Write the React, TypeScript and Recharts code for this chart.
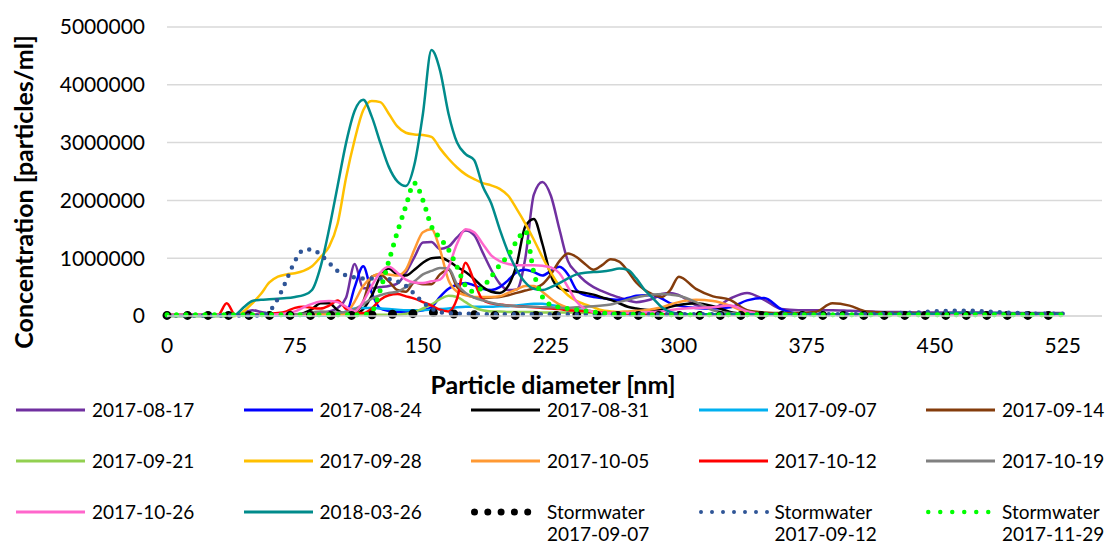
import { LineChart, Line, XAxis, YAxis, CartesianGrid, Label, Legend } from "recharts";

// Particle size distributions, values in millions of particles/ml
const FONT = "Lato, 'Open Sans', sans-serif";

const diameters = [
  0, 5, 10, 15, 20, 25, 30, 35, 40, 45,
  50, 55, 60, 65, 70, 75, 80, 85, 90, 95,
  100, 105, 110, 115, 120, 125, 130, 135, 140, 145,
  150, 155, 160, 165, 170, 175, 180, 185, 190, 195,
  200, 205, 210, 215, 220, 225, 230, 235, 240, 245,
  250, 255, 260, 265, 270, 275, 280, 285, 290, 295,
  300,
  310, 320, 330, 340, 350, 360, 370, 380, 390, 400,
  410, 420, 430, 440, 450, 460, 470, 480, 490, 500, 510, 520,
  525,
];

const conc0817 = [
  0.01, 0.01, 0.01, 0.01, 0.01, 0.01, 0.01, 0.01, 0.01, 0.06,
  0.1, 0.07, 0.04, 0.03, 0.03, 0.03, 0.03, 0.03, 0.05, 0.08,
  0.14, 0.32, 0.9, 0.48, 0.48, 0.5, 0.52, 0.56, 0.75, 1.02,
  1.27, 1.28, 1.16, 1.2, 1.36, 1.48, 1.4, 1.1, 0.8, 0.56,
  0.45, 0.46, 1.0, 2.1, 2.32, 2.08, 1.5, 0.95, 0.75, 0.6,
  0.5, 0.43, 0.37, 0.32, 0.27, 0.24, 0.26, 0.3, 0.38, 0.4,
  0.36,
  0.19, 0.14, 0.3, 0.4, 0.28, 0.12, 0.1, 0.1, 0.1, 0.09,
  0.08, 0.07, 0.07, 0.06, 0.06, 0.06, 0.06, 0.06, 0.05, 0.05, 0.05, 0.05,
  0.05,
];

const conc0824 = [
  0.01, 0.01, 0.01, 0.01, 0.01, 0.01, 0.01, 0.01, 0.01, 0.01,
  0.01, 0.01, 0.01, 0.01, 0.01, 0.01, 0.01, 0.01, 0.01, 0.01,
  0.02, 0.05, 0.5, 0.86, 0.4, 0.13, 0.09, 0.07, 0.07, 0.08,
  0.1, 0.15, 0.33, 0.47, 0.54, 0.57, 0.53, 0.47, 0.45, 0.5,
  0.62, 0.76, 0.8, 0.76, 0.7, 0.78, 0.85, 0.72, 0.45, 0.36,
  0.33, 0.31, 0.29, 0.28, 0.31, 0.35, 0.36, 0.36, 0.3, 0.22,
  0.18,
  0.14, 0.13, 0.15, 0.27, 0.31, 0.12, 0.04, 0.03, 0.03, 0.03,
  0.03, 0.03, 0.03, 0.03, 0.03, 0.03, 0.03, 0.03, 0.03, 0.03, 0.03, 0.03,
  0.03,
];

const conc0831 = [
  0.02, 0.02, 0.02, 0.02, 0.02, 0.02, 0.02, 0.02, 0.02, 0.02,
  0.02, 0.02, 0.02, 0.02, 0.02, 0.02, 0.05, 0.12, 0.22, 0.22,
  0.1, 0.04, 0.04, 0.12, 0.35, 0.68, 0.82, 0.72, 0.7, 0.8,
  0.92, 1.0, 1.01, 0.95, 0.85, 0.76, 0.64, 0.5, 0.42, 0.4,
  0.52, 0.9, 1.55, 1.68, 1.25, 0.7, 0.48, 0.44, 0.42, 0.4,
  0.37, 0.32, 0.28, 0.22, 0.16, 0.13, 0.11, 0.1, 0.12, 0.16,
  0.19,
  0.22, 0.17, 0.07, 0.03, 0.02, 0.02, 0.02, 0.02, 0.02, 0.02,
  0.02, 0.02, 0.02, 0.02, 0.02, 0.02, 0.02, 0.02, 0.02, 0.02, 0.02, 0.02,
  0.02,
];

const conc0907 = [
  0.01, 0.01, 0.01, 0.01, 0.01, 0.01, 0.01, 0.01, 0.01, 0.01,
  0.01, 0.01, 0.01, 0.01, 0.01, 0.01, 0.01, 0.01, 0.01, 0.01,
  0.03, 0.08, 0.13, 0.14, 0.14, 0.13, 0.12, 0.11, 0.1, 0.1,
  0.1, 0.11, 0.12, 0.13, 0.15, 0.16, 0.16, 0.16, 0.16, 0.17,
  0.17, 0.18, 0.2, 0.21, 0.21, 0.19, 0.17, 0.14, 0.12, 0.1,
  0.08, 0.06, 0.05, 0.04, 0.03, 0.03, 0.03, 0.03, 0.03, 0.03,
  0.03,
  0.02, 0.02, 0.02, 0.02, 0.02, 0.02, 0.02, 0.02, 0.02, 0.02,
  0.02, 0.02, 0.02, 0.02, 0.02, 0.02, 0.02, 0.02, 0.02, 0.02, 0.02, 0.02,
  0.02,
];

const conc0914 = [
  0.02, 0.02, 0.02, 0.02, 0.02, 0.02, 0.02, 0.02, 0.02, 0.02,
  0.02, 0.02, 0.02, 0.02, 0.02, 0.02, 0.02, 0.02, 0.02, 0.02,
  0.02, 0.02, 0.05, 0.25, 0.68, 0.72, 0.6, 0.45, 0.42, 0.58,
  0.55, 0.55, 0.72, 0.8, 0.5, 0.38, 0.32, 0.31, 0.32, 0.33,
  0.36, 0.4, 0.44, 0.48, 0.55, 0.72, 0.95, 1.08, 1.02, 0.9,
  0.8, 0.88, 0.98, 0.94, 0.78, 0.58, 0.45, 0.37, 0.33, 0.45,
  0.68,
  0.47, 0.34, 0.28, 0.1, 0.06, 0.05, 0.05, 0.07, 0.22, 0.18,
  0.08, 0.06, 0.05, 0.05, 0.04, 0.04, 0.04, 0.04, 0.04, 0.04, 0.04, 0.04,
  0.04,
];

const conc0921 = [
  0.02, 0.02, 0.02, 0.02, 0.02, 0.02, 0.02, 0.02, 0.02, 0.02,
  0.02, 0.02, 0.02, 0.02, 0.02, 0.02, 0.02, 0.02, 0.02, 0.02,
  0.02, 0.02, 0.02, 0.02, 0.02, 0.02, 0.02, 0.02, 0.04, 0.07,
  0.13, 0.2, 0.29, 0.35, 0.33, 0.24, 0.15, 0.1, 0.08, 0.08,
  0.07, 0.07, 0.07, 0.07, 0.06, 0.06, 0.06, 0.06, 0.06, 0.05,
  0.05, 0.05, 0.05, 0.04, 0.04, 0.04, 0.04, 0.04, 0.03, 0.03,
  0.03,
  0.02, 0.02, 0.02, 0.02, 0.02, 0.02, 0.02, 0.02, 0.02, 0.02,
  0.02, 0.02, 0.02, 0.02, 0.02, 0.02, 0.02, 0.02, 0.02, 0.02, 0.02, 0.02,
  0.02,
];

const conc0928 = [
  0, 0, 0, 0, 0, 0, 0, 0, 0, 0.08,
  0.22, 0.38, 0.58, 0.68, 0.72, 0.74, 0.78, 0.86, 1.02, 1.2,
  1.6, 2.4, 3.05, 3.56, 3.72, 3.7, 3.5, 3.28, 3.17, 3.14,
  3.13, 3.1, 2.9, 2.72, 2.57, 2.45, 2.37, 2.3, 2.26, 2.2,
  2.08, 1.85, 1.6, 1.32, 1.02, 0.75, 0.52, 0.36, 0.26, 0.2,
  0.15, 0.1, 0.08, 0.06, 0.05, 0.04, 0.04, 0.03, 0.03, 0.03,
  0.03,
  0.02, 0.02, 0.02, 0.02, 0.02, 0.02, 0.02, 0.02, 0.02, 0.02,
  0.02, 0.02, 0.02, 0.02, 0.02, 0.02, 0.02, 0.02, 0.02, 0.02, 0.02, 0.02,
  0.02,
];

const conc1005 = [
  0.02, 0.02, 0.02, 0.02, 0.02, 0.02, 0.02, 0.02, 0.02, 0.02,
  0.02, 0.02, 0.02, 0.02, 0.02, 0.02, 0.02, 0.02, 0.02, 0.02,
  0.02, 0.05, 0.25, 0.52, 0.67, 0.73, 0.72, 0.7, 0.8, 1.15,
  1.45, 1.5, 1.15, 0.62, 0.42, 0.36, 0.33, 0.33, 0.33, 0.34,
  0.4, 0.46, 0.52, 0.52, 0.42, 0.3, 0.2, 0.14, 0.1, 0.09,
  0.08, 0.07, 0.07, 0.07, 0.08, 0.09, 0.1, 0.12, 0.15, 0.2,
  0.24,
  0.28, 0.26, 0.18, 0.06, 0.03, 0.02, 0.02, 0.02, 0.02, 0.02,
  0.02, 0.02, 0.02, 0.02, 0.02, 0.02, 0.02, 0.02, 0.02, 0.02, 0.02, 0.02,
  0.02,
];

const conc1012 = [
  0.01, 0.01, 0.01, 0.01, 0.01, 0.01, 0.02, 0.22, 0.02, 0.02,
  0.03, 0.03, 0.04, 0.05, 0.08, 0.14, 0.16, 0.14, 0.13, 0.18,
  0.27, 0.12, 0.06, 0.05, 0.13, 0.28, 0.36, 0.38, 0.34, 0.3,
  0.24, 0.18, 0.11, 0.08, 0.3, 0.92, 0.6, 0.28, 0.22, 0.2,
  0.18, 0.17, 0.16, 0.15, 0.14, 0.13, 0.12, 0.1, 0.09, 0.08,
  0.07, 0.06, 0.05, 0.05, 0.04, 0.04, 0.03, 0.03, 0.03, 0.03,
  0.03,
  0.02, 0.02, 0.02, 0.02, 0.02, 0.02, 0.02, 0.02, 0.02, 0.02,
  0.02, 0.02, 0.02, 0.02, 0.02, 0.02, 0.02, 0.02, 0.02, 0.02, 0.02, 0.02,
  0.02,
];

const conc1019 = [
  0.02, 0.02, 0.02, 0.02, 0.02, 0.02, 0.02, 0.02, 0.02, 0.02,
  0.02, 0.02, 0.02, 0.02, 0.02, 0.03, 0.04, 0.06, 0.08, 0.07,
  0.06, 0.07, 0.12, 0.2, 0.3, 0.36, 0.4, 0.42, 0.5, 0.6,
  0.72, 0.78, 0.83, 0.82, 0.55, 0.4, 0.32, 0.27, 0.23, 0.2,
  0.18, 0.17, 0.16, 0.16, 0.15, 0.15, 0.14, 0.14, 0.15, 0.16,
  0.17, 0.18, 0.2, 0.24, 0.28, 0.32, 0.35, 0.37, 0.38, 0.37,
  0.35,
  0.24, 0.1, 0.05, 0.03, 0.03, 0.03, 0.03, 0.03, 0.03, 0.03,
  0.03, 0.03, 0.03, 0.03, 0.03, 0.03, 0.03, 0.03, 0.03, 0.03, 0.03, 0.03,
  0.03,
];

const conc1026 = [
  0.02, 0.02, 0.02, 0.02, 0.02, 0.02, 0.02, 0.02, 0.02, 0.02,
  0.02, 0.02, 0.02, 0.03, 0.05, 0.08, 0.15, 0.21, 0.25, 0.26,
  0.24, 0.16, 0.08, 0.25, 0.52, 0.75, 0.85, 0.75, 0.63, 0.58,
  0.57, 0.6, 0.63, 0.85, 1.25, 1.5, 1.45, 1.25, 1.05, 0.95,
  0.9, 0.88, 0.88, 0.88, 0.87, 0.84, 0.74, 0.5, 0.25, 0.12,
  0.07, 0.05, 0.05, 0.05, 0.05, 0.05, 0.06, 0.07, 0.08, 0.1,
  0.12,
  0.14, 0.15, 0.18, 0.08, 0.03, 0.02, 0.02, 0.02, 0.02, 0.02,
  0.02, 0.02, 0.02, 0.02, 0.02, 0.02, 0.02, 0.02, 0.02, 0.02, 0.02, 0.02,
  0.02,
];

const conc180326 = [
  0, 0, 0, 0, 0, 0, 0, 0, 0.02, 0.15,
  0.26, 0.28, 0.29, 0.3, 0.31, 0.33, 0.36, 0.45, 0.85, 1.5,
  2.25, 3.0, 3.55, 3.74, 3.45, 3.0, 2.58, 2.33, 2.25, 2.62,
  3.5, 4.6, 4.25, 3.5, 3.0, 2.8, 2.7, 2.25, 1.95, 1.5,
  1.1, 0.8, 0.58, 0.47, 0.45, 0.5, 0.57, 0.65, 0.72, 0.75,
  0.76, 0.77, 0.79, 0.82, 0.8, 0.65, 0.45, 0.3, 0.15, 0.07,
  0.04,
  0.03, 0.03, 0.03, 0.03, 0.03, 0.03, 0.03, 0.03, 0.03, 0.03,
  0.03, 0.03, 0.04, 0.04, 0.04, 0.05, 0.05, 0.05, 0.05, 0.04, 0.04, 0.04,
  0.04,
];

const storm0907 = [
  0.01, 0.01, 0.01, 0.01, 0.01, 0.01, 0.01, 0.01, 0.01, 0.01,
  0.01, 0.01, 0.01, 0.01, 0.01, 0.01, 0.01, 0.01, 0.01, 0.01,
  0.01, 0.01, 0.01, 0.01, 0.02, 0.02, 0.03, 0.03, 0.04, 0.04,
  0.05, 0.06, 0.05, 0.04, 0.03, 0.02, 0.02, 0.02, 0.01, 0.01,
  0.01, 0.01, 0.01, 0.01, 0.01, 0.01, 0.01, 0.01, 0.01, 0.01,
  0.01, 0.01, 0.01, 0.01, 0.01, 0.01, 0.01, 0.01, 0.01, 0.01,
  0.01,
  0.01, 0.01, 0.01, 0.01, 0.01, 0.01, 0.01, 0.01, 0.01, 0.01,
  0.01, 0.01, 0.01, 0.01, 0.01, 0.01, 0.01, 0.01, 0.01, 0.01, 0.01, 0.01,
  0.01,
];

const storm0912 = [
  0.01, 0.01, 0.01, 0.01, 0.01, 0.01, 0.01, 0.01, 0.01, 0.01,
  0.01, 0.01, 0.08, 0.3, 0.62, 0.95, 1.14, 1.15, 1.06, 0.92,
  0.78, 0.7, 0.67, 0.65, 0.65, 0.65, 0.64, 0.6, 0.52, 0.38,
  0.24, 0.13, 0.07, 0.05, 0.04, 0.04, 0.03, 0.03, 0.03, 0.03,
  0.03, 0.03, 0.03, 0.03, 0.03, 0.03, 0.03, 0.03, 0.03, 0.03,
  0.03, 0.03, 0.03, 0.03, 0.03, 0.03, 0.03, 0.03, 0.03, 0.03,
  0.03,
  0.03, 0.03, 0.03, 0.03, 0.03, 0.03, 0.03, 0.03, 0.03, 0.03,
  0.03, 0.04, 0.05, 0.06, 0.08, 0.09, 0.09, 0.08, 0.06, 0.05, 0.04, 0.04,
  0.04,
];

const storm1129 = [
  0.02, 0.02, 0.02, 0.02, 0.02, 0.02, 0.02, 0.02, 0.02, 0.02,
  0.02, 0.02, 0.02, 0.02, 0.02, 0.02, 0.02, 0.02, 0.02, 0.02,
  0.02, 0.02, 0.02, 0.02, 0.08, 0.45, 0.95, 1.45, 1.9, 2.3,
  2.0, 1.55, 1.35, 1.15, 0.85, 0.52, 0.42, 0.5, 0.68, 0.88,
  1.05, 1.3, 1.47, 0.75, 0.33, 0.19, 0.15, 0.13, 0.11, 0.09,
  0.07, 0.05, 0.04, 0.03, 0.03, 0.03, 0.02, 0.02, 0.02, 0.02,
  0.02,
  0.02, 0.02, 0.02, 0.02, 0.02, 0.02, 0.02, 0.02, 0.02, 0.02,
  0.02, 0.02, 0.02, 0.02, 0.02, 0.02, 0.02, 0.02, 0.02, 0.02, 0.02, 0.02,
  0.02,
];

const xTicks = [0, 75, 150, 225, 300, 375, 450, 525];
const yTicks = [0, 1000000, 2000000, 3000000, 4000000, 5000000];

type Series = {
  key: string;
  name: string;
  values: number[];
  color: string;
  width: number;
  dash?: string;
  legendWidth?: number;
  legendDash?: string;
};

const series: Series[] = [
  { key: "s0817", name: "2017-08-17", values: conc0817, color: "#7030a0", width: 2.5 },
  { key: "s0824", name: "2017-08-24", values: conc0824, color: "#0000ff", width: 2.5 },
  { key: "s0831", name: "2017-08-31", values: conc0831, color: "#000000", width: 2.5 },
  { key: "s0907", name: "2017-09-07", values: conc0907, color: "#00b0f0", width: 2.5 },
  { key: "s0914", name: "2017-09-14", values: conc0914, color: "#843c0c", width: 2.5 },
  { key: "s0921", name: "2017-09-21", values: conc0921, color: "#92d050", width: 2.5 },
  { key: "s0928", name: "2017-09-28", values: conc0928, color: "#ffc000", width: 2.5 },
  { key: "s1005", name: "2017-10-05", values: conc1005, color: "#ff9933", width: 2.5 },
  { key: "s1012", name: "2017-10-12", values: conc1012, color: "#ff0000", width: 2.5 },
  { key: "s1019", name: "2017-10-19", values: conc1019, color: "#808080", width: 2.5 },
  { key: "s1026", name: "2017-10-26", values: conc1026, color: "#ff66cc", width: 2.5 },
  { key: "s180326", name: "2018-03-26", values: conc180326, color: "#008b8b", width: 2.5 },
  { key: "w0907", name: "Stormwater\n2017-09-07", values: storm0907, color: "#000000", width: 9, dash: "0 20.5", legendWidth: 7, legendDash: "0 13.3" },
  { key: "w0912", name: "Stormwater\n2017-09-12", values: storm0912, color: "#2f5597", width: 4.5, dash: "0 9", legendWidth: 4, legendDash: "0 11" },
  { key: "w1129", name: "Stormwater\n2017-11-29", values: storm1129, color: "#00ff00", width: 5, dash: "0 9.5", legendWidth: 4.5, legendDash: "0 12" },
];

const tableRows = diameters.map((nm, i) => {
  const row: Record<string, number> = { nm };
  series.forEach((s) => {
    row[s.key] = s.values[i] * 1000000;
  });
  return row;
});

const LegendGrid = () => (
  <div
    style={{
      display: "grid",
      gridTemplateColumns: "repeat(5, 227.5px)",
      gridAutoRows: "51px",
      fontFamily: FONT,
      fontSize: 19,
      color: "#000",
    }}
  >
    {series.map((s) => {
      const r = s.legendWidth ? s.legendWidth / 2 : 0;
      return (
        <div key={s.key} style={{ display: "flex", alignItems: "flex-start", whiteSpace: "nowrap" }}>
          <svg width={76} height={22} style={{ flex: "none" }}>
            <line
              x1={r}
              x2={69}
              y1={11}
              y2={11}
              stroke={s.color}
              strokeWidth={s.legendWidth ?? 3}
              strokeDasharray={s.legendDash}
              strokeLinecap={s.legendDash ? "round" : "butt"}
            />
          </svg>
          <div style={{ lineHeight: "22px" }}>
            {s.name.split("\n").map((part) => (
              <div key={part}>{part}</div>
            ))}
          </div>
        </div>
      );
    })}
  </div>
);

const App = () => {
  return (
    <div style={{ position: "absolute", left: 0, top: 0, width: 1106, height: 547, background: "#fff" }}>
      <LineChart width={1106} height={547} data={tableRows} margin={{ top: 27, right: 4, left: 0, bottom: 151 }}>
        <CartesianGrid vertical={false} stroke="#d9d9d9" strokeWidth={1.5} />
        <XAxis
          dataKey="nm"
          type="number"
          domain={[0, 548]}
          ticks={xTicks}
          height={80}
          axisLine={{ stroke: "#d9d9d9", strokeWidth: 1.5 }}
          tickLine={false}
          tickSize={0}
          tickMargin={22}
          tick={{ fontSize: 21, fill: "#000", fontFamily: FONT }}
        >
          <Label
            content={() => (
              <text x={553} y={394} textAnchor="middle" fontFamily={FONT} fontSize={25} fontWeight={700} fill="#000">
                Particle diameter [nm]
              </text>
            )}
          />
        </XAxis>
        <YAxis
          domain={[0, 5000000]}
          ticks={yTicks}
          width={167}
          axisLine={false}
          tickLine={false}
          tickSize={0}
          tickMargin={22}
          tickFormatter={(v: number) => String(v)}
          tick={{ fontSize: 21, fill: "#000", fontFamily: FONT }}
        >
          <Label
            content={() => (
              <text
                x={23}
                y={192}
                transform="rotate(-90 23 192)"
                textAnchor="middle"
                dominantBaseline="central"
                fontFamily={FONT}
                fontSize={25}
                fontWeight={700}
                fill="#000"
              >
                Concentration [particles/ml]
              </text>
            )}
          />
        </YAxis>
        <Legend
          verticalAlign="middle"
          align="center"
          layout="horizontal"
          wrapperStyle={{ left: 16, top: 399, width: 1090 }}
          content={() => <LegendGrid />}
        />
        {series.map((s) => (
          <Line
            key={s.key}
            type="monotone"
            dataKey={s.key}
            name={s.name}
            stroke={s.color}
            strokeWidth={s.width}
            strokeDasharray={s.dash}
            strokeLinecap={s.dash ? "round" : "butt"}
            dot={false}
            activeDot={false}
            isAnimationActive={false}
          />
        ))}
      </LineChart>
    </div>
  );
};

export default App;
